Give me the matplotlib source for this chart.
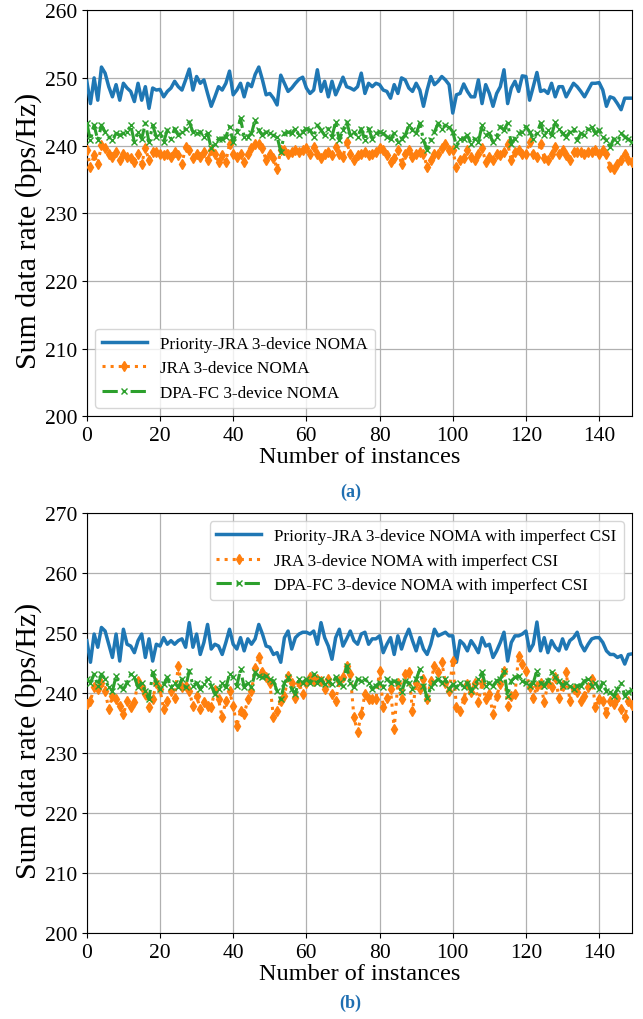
import numpy as np
import matplotlib
matplotlib.use("Agg")
import matplotlib.pyplot as plt

plt.rcParams['font.family'] = ['Liberation Serif', 'DejaVu Serif']
plt.rcParams['mathtext.fontset'] = 'stix'

# ---------------- data (a) perfect CSI ----------------
a_priority = [
    249.5, 246.2, 250.0, 246.7, 251.6, 250.7, 248.7, 247.2, 249.0, 246.7,
    249.2, 248.5, 248.0, 246.5, 249.2, 246.7, 248.7, 245.5, 248.5, 248.2,
    248.3, 247.2, 248.0, 248.5, 249.5, 248.7, 248.2, 249.7, 251.3, 248.2,
    250.2, 249.2, 249.7, 247.7, 245.8, 247.2, 248.7, 248.2, 249.2, 251.0,
    247.5, 248.2, 249.2, 247.2, 249.2, 248.7, 250.5, 251.6, 249.7, 247.5,
    247.7, 247.0, 246.0, 250.4, 249.2, 248.0, 248.5, 249.2, 249.8, 250.1,
    248.5, 247.7, 248.2, 251.2, 248.0, 249.5, 247.2, 249.5, 247.5, 248.7,
    250.1, 248.7, 248.5, 248.2, 248.7, 250.7, 247.7, 249.2, 248.7, 249.2,
    249.0, 248.2, 248.0, 247.0, 249.0, 247.7, 250.0, 249.7, 248.5, 248.0,
    249.2, 248.2, 245.8, 248.2, 250.2, 249.0, 249.5, 250.2, 249.7,
    249.0, 244.8, 247.5, 247.7, 249.1, 248.0, 247.2, 247.2, 249.7, 246.2,
    249.0, 247.7, 245.8, 247.7, 248.7, 251.2, 246.2, 248.5, 249.5, 248.0,
    250.3, 250.2, 246.7, 248.7, 250.8, 248.0, 248.2, 247.7, 249.2, 247.2,
    248.7, 248.7, 247.2, 248.2, 249.2, 248.7, 248.0, 247.2, 248.2, 249.2,
    249.2, 249.3, 248.2, 245.8, 247.2, 247.0, 246.2, 245.3, 247.0, 247.0,
    247.0,
]
a_jra = [
    239.3, 236.8, 238.6, 237.3, 240.1, 239.6, 238.8, 238.3, 239.1, 237.8,
    238.8, 238.3, 238.1, 237.6, 238.8, 237.3, 239.6, 237.8, 239.1, 239.1,
    238.8, 238.6, 238.8, 238.3, 239.1, 238.6, 237.3, 239.8, 239.3, 238.1,
    238.8, 238.3, 239.1, 237.8, 239.3, 238.8, 237.6, 238.6, 237.6, 240.3,
    238.8, 238.3, 238.8, 237.6, 238.8, 239.6, 240.3, 240.3, 239.6, 237.8,
    238.8, 238.1, 236.6, 239.3, 239.3, 238.8, 239.1, 239.3, 239.1, 239.3,
    239.6, 238.8, 239.8, 238.8, 238.1, 238.8, 239.1, 238.6, 239.8, 238.8,
    238.3, 240.5, 238.8, 237.8, 238.6, 238.8, 239.1, 238.6, 238.8, 239.1,
    239.6, 239.3, 238.6, 237.6, 238.1, 239.3, 237.3, 238.8, 239.3, 238.3,
    238.8, 239.1, 238.8, 236.8, 237.8, 238.8, 238.8, 239.6, 240.3,
    239.3, 239.3, 236.8, 237.8, 238.1, 239.3, 238.3, 237.8, 238.8, 239.6,
    237.6, 238.3, 237.8, 238.8, 238.6, 239.1, 240.3, 237.8, 239.1, 239.3,
    238.8, 238.8, 240.5, 238.8, 238.3, 240.3, 238.1, 237.8, 238.8, 239.8,
    238.8, 239.3, 238.6, 237.8, 239.1, 239.1, 239.1, 238.8, 239.1, 239.1,
    239.3, 238.8, 239.3, 238.8, 236.8, 236.6, 237.3, 237.8, 238.8, 237.8,
    237.5,
]
a_dpafc = [
    243.3, 240.8, 243.0, 240.8, 243.0, 242.0, 241.3, 240.8, 241.8, 241.5,
    241.8, 242.0, 243.0, 240.5, 242.0, 241.0, 243.3, 240.5, 243.0, 241.3,
    241.8, 240.5, 242.3, 241.0, 242.5, 241.5, 242.0, 242.5, 243.5, 242.0,
    241.8, 242.0, 241.3, 241.8, 239.6, 240.3, 241.0, 241.0, 241.3, 242.8,
    240.5, 242.0, 244.0, 241.3, 241.3, 241.8, 243.8, 242.3, 241.5, 242.0,
    241.8, 241.5, 241.3, 239.1, 241.8, 242.0, 241.8, 242.5, 241.5, 242.0,
    242.5, 242.3, 241.3, 243.0, 242.3, 241.5, 242.5, 241.3, 243.5, 240.8,
    242.3, 243.5, 241.5, 242.0, 241.3, 242.5, 240.8, 242.5, 241.0, 241.8,
    242.0, 241.8, 241.3, 241.0, 241.8, 240.5, 241.0, 241.5, 243.0, 242.3,
    241.8, 243.3, 240.8, 239.3, 240.8, 242.0, 243.3, 242.5, 243.0,
    242.8, 242.0, 240.0, 241.0, 241.0, 241.5, 240.3, 241.0, 240.5, 243.0,
    241.5, 241.8, 240.5, 241.3, 242.8, 242.3, 243.3, 240.3, 241.0, 241.8,
    242.0, 242.8, 242.0, 241.0, 241.8, 243.3, 241.5, 242.3, 241.5, 243.5,
    242.5, 241.8, 241.3, 242.0, 242.5, 240.8, 241.8, 241.5, 242.5, 242.8,
    241.8, 242.3, 241.3, 240.8, 239.8, 241.0, 240.5, 241.8, 241.3, 240.9,
    240.5,
]

# ---------------- data (b) imperfect CSI ----------------
b_priority = [
    248.7, 245.1, 249.8, 247.6, 250.9, 250.3, 248.1, 245.9, 249.8, 245.3,
    250.6, 248.1, 247.8, 246.7, 248.7, 249.8, 245.9, 249.0, 245.3, 248.1,
    247.8, 249.2, 248.1, 248.7, 248.1, 248.7, 249.0, 247.6, 251.7, 247.6,
    249.8, 246.4, 248.4, 251.4, 247.3, 248.1,
    247.8, 246.4, 248.4, 250.6, 248.1, 247.3, 249.2, 247.0, 249.0, 248.1,
    249.0, 251.4, 249.8, 247.8, 247.6, 246.4, 246.7, 245.1, 249.2, 250.3,
    247.3, 249.2, 249.8, 250.1, 250.1, 249.8, 250.3, 248.1, 251.7, 249.2,
    247.8, 245.6, 249.2, 250.6, 247.8, 249.0, 250.3,
    248.7, 248.1, 249.8, 250.1, 248.1, 249.0, 249.0, 249.5, 246.7, 248.1,
    249.2, 246.4, 249.5, 247.3, 249.2, 250.6, 248.7, 247.0, 249.2, 247.3,
    246.4, 248.1, 250.6, 249.5, 249.8, 250.1, 249.5, 249.5, 245.1, 248.7,
    248.1, 247.0, 248.7, 247.8, 246.7, 249.2, 247.8,
    248.1, 245.9, 247.0, 248.4, 250.1, 245.3, 248.4, 249.5, 249.5, 249.8,
    250.3, 247.0, 248.1, 251.8, 247.0, 249.2, 246.7, 248.7, 247.6, 247.0,
    249.0, 247.3, 248.7, 249.2, 250.1, 248.1, 247.0, 248.1, 249.0, 249.2,
    249.2, 248.4, 247.0, 246.4, 246.4, 245.9, 246.2, 244.8, 246.4, 246.5,
]
b_jra = [
    238.1, 238.7, 240.9, 240.6, 241.7, 240.3, 237.3, 239.5, 238.9, 237.8,
    236.4, 238.7, 237.6, 238.4, 242.0, 240.9, 239.8, 237.6, 238.9, 241.7,
    240.6, 237.3, 238.7, 240.3, 239.2, 244.5, 240.9, 241.2, 240.3, 237.8,
    239.5, 237.3, 238.4, 237.8, 237.6, 240.5,
    238.9, 235.9, 238.7, 240.3, 237.8, 234.5, 237.0, 236.4, 238.9, 240.3,
    244.2, 245.9, 243.4, 242.6, 241.7, 235.9, 237.0, 238.7, 239.5, 242.8,
    241.7, 239.2, 241.7, 239.8, 241.7, 242.6, 242.0, 242.3, 242.0, 240.6,
    242.3, 239.8, 238.7, 242.0, 242.6, 244.5, 243.1,
    235.9, 233.5, 236.4, 239.8, 238.9, 238.9, 238.9, 243.7, 237.6, 239.2,
    240.6, 234.0, 241.7, 238.9, 243.1, 243.4, 237.0, 241.7, 240.6, 242.3,
    238.9, 242.0, 244.5, 243.4, 245.1, 241.7, 240.3, 245.3, 237.6, 237.0,
    238.9, 241.4, 240.1, 241.7, 238.4, 241.7, 238.9,
    239.8, 236.4, 239.5, 241.4, 243.7, 237.8, 239.5, 239.8, 246.2, 244.8,
    243.7, 240.9, 239.2, 241.2, 241.7, 238.4, 241.7, 240.9, 242.6, 239.2,
    241.2, 243.4, 238.7, 240.6, 240.1, 238.7, 239.5, 240.9, 242.3, 237.6,
    238.9, 238.7, 236.7, 238.7, 238.1, 239.2, 237.3, 235.9, 238.7, 238.0,
]
b_dpafc = [
    242.3, 241.7, 243.1, 241.2, 243.1, 242.3, 240.9, 240.3, 242.8, 241.2,
    240.6, 241.7, 243.1, 242.6, 240.9, 241.7, 240.3, 238.9, 243.4, 241.7,
    240.6, 241.4, 242.6, 240.9, 241.7, 240.9, 242.3, 240.9, 243.7, 241.2,
    241.7, 240.6, 241.4, 242.3, 241.2, 239.8,
    240.6, 241.7, 240.9, 243.1, 242.6, 241.2, 243.9, 240.9, 241.7, 240.9,
    243.4, 242.8, 242.6, 242.8, 242.3, 242.0, 240.3, 238.9, 241.7, 242.6,
    240.6, 239.8, 242.3, 241.7, 242.3, 241.7, 243.1, 241.7, 242.3, 241.4,
    242.0, 241.4, 242.6, 241.7, 241.2, 244.5, 241.7,
    240.9, 242.3, 242.0, 242.3, 241.7, 240.6, 241.2, 241.7, 240.9, 242.3,
    241.7, 242.0, 241.7, 240.1, 242.0, 241.7, 240.6, 242.3, 243.9, 241.2,
    239.2, 240.9, 241.7, 242.3, 241.7, 242.3, 240.6, 241.4, 240.9, 241.7,
    240.9, 241.7, 240.3, 241.2, 242.3, 243.4, 241.2,
    241.7, 241.2, 242.0, 242.3, 243.7, 239.5, 242.0, 242.6, 242.8, 242.0,
    241.7, 241.2, 241.7, 243.7, 241.7, 241.2, 242.0, 243.4, 242.6, 242.0,
    241.2, 241.7, 241.2, 240.6, 241.2, 241.2, 242.0, 242.3, 241.2, 241.7,
    240.6, 241.7, 240.3, 240.1, 239.5, 240.6, 241.7, 239.5, 240.1, 240.5,
]

x = np.arange(len(a_priority))

labels_a = ["Priority-JRA 3-device NOMA", "JRA 3-device NOMA", "DPA-FC 3-device NOMA"]
labels_b = [l + " with imperfect CSI" for l in labels_a]

fig = plt.figure(figsize=(6.43, 10.2), dpi=100)
ax1 = fig.add_axes([0.135, 0.591, 0.848, 0.398])
ax2 = fig.add_axes([0.135, 0.0843, 0.848, 0.412])

def draw(ax, pr, jr, dp, labels, ylim, legloc):
    ax.plot(x, pr, color='#1f77b4', lw=2.5, label=labels[0], zorder=3)
    ax.plot(x, jr, color='#ff7f0e', lw=2.2, ls=':', marker='d', ms=5,
            label=labels[1], zorder=3)
    ax.plot(x, dp, color='#2ca02c', lw=2.2, ls=(0, (5, 1.6, 1, 1.6)),
            marker='x', ms=5, mew=1.0, label=labels[2], zorder=3)
    ax.set_xlim(0, 149)
    ax.set_ylim(*ylim)
    ax.set_yticks(np.arange(ylim[0], ylim[1] + 1, 10))
    ax.set_xticks(np.arange(0, 150, 20))
    ax.grid(True, color='#b0b0b0', lw=0.9)
    ax.tick_params(labelsize=15.5)
    ax.set_xlabel("Number of instances", fontsize=17.5, labelpad=1)
    ax.set_ylabel("Sum data rate (bps/Hz)", fontsize=21.5, labelpad=2, y=0.46)
    ax.legend(loc=legloc, fontsize=12.3, handlelength=2.6, framealpha=0.8)

draw(ax1, a_priority, a_jra, a_dpafc, labels_a, (200, 260), 'lower left')
draw(ax2, b_priority, b_jra, b_dpafc, labels_b, (200, 270), 'upper right')

fig.text(0.545, 0.5176, "(a)", ha='center', va='center', fontsize=13,
         fontweight='bold', color='#1f6fb2')
fig.text(0.545, 0.0167, "(b)", ha='center', va='center', fontsize=13,
         fontweight='bold', color='#1f6fb2')

fig.savefig("out.png", dpi=100)
